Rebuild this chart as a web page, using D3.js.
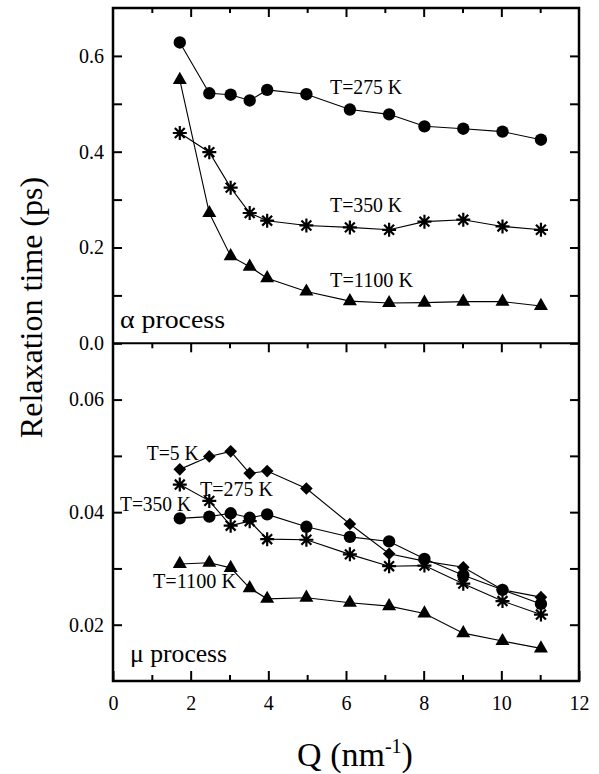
<!DOCTYPE html>
<html>
<head>
<meta charset="utf-8">
<script src="https://cdn.jsdelivr.net/npm/d3@7"></script>
<style>
  body { margin: 0; background: #fff; }
</style>
</head>
<body>
<div id="chart"></div>
<script>
const W = 599, H = 774;
const FONT = "'Liberation Serif', 'Times New Roman', Times, 'DejaVu Serif', serif";

// Q values (nm^-1), shared by every series
const qVals = [1.72, 2.48, 3.03, 3.52, 3.97, 4.98, 6.1, 7.11, 8.02, 9.02, 10.03, 11.02];

// alpha process (ps)
const alpha275  = [0.628, 0.522, 0.519, 0.507, 0.529, 0.520, 0.488, 0.478, 0.453, 0.448, 0.442, 0.425];
const alpha350  = [0.439, 0.399, 0.325, 0.272, 0.256, 0.246, 0.242, 0.237, 0.254, 0.258, 0.244, 0.237];
const alpha1100 = [0.550, 0.272, 0.182, 0.160, 0.136, 0.108, 0.088, 0.084, 0.085, 0.087, 0.087, 0.078];

// mu process (ps)
const mu5    = [0.0476, 0.0499, 0.0508, 0.0469, 0.0473, 0.0442, 0.0379, 0.0326, 0.0313, 0.0302, 0.0262, 0.0249];
const mu275  = [0.0389, 0.0392, 0.0398, 0.0390, 0.0396, 0.0374, 0.0356, 0.0348, 0.0317, 0.0288, 0.0262, 0.0237];
const mu350  = [0.0449, 0.0420, 0.0376, 0.0384, 0.0352, 0.0351, 0.0325, 0.0304, 0.0305, 0.0273, 0.0242, 0.0218];
const mu1100 = [0.0308, 0.0310, 0.0301, 0.0265, 0.0246, 0.0248, 0.0239, 0.0233, 0.0220, 0.0185, 0.0171, 0.0158];

// tick values
const xMajor = [0, 2, 4, 6, 8, 10, 12];
const xMinor = [1, 3, 5, 7, 9, 11];
const yAlphaTicks = [0, 0.1, 0.2, 0.3, 0.4, 0.5, 0.6];
const yAlphaLabels = [0, 0.2, 0.4, 0.6];
const yMuTicks = [0.02, 0.03, 0.04, 0.05, 0.06];
const yMuLabels = [0.02, 0.04, 0.06];

const svg = d3.select("#chart").append("svg")
  .attr("width", W).attr("height", H)
  .attr("font-family", FONT);

const L = 113, R = 579, T = 8, M = 343.3, B = 681;

const x = d3.scaleLinear().domain([0, 12]).range([L, R]);
const yA = d3.scaleLinear().domain([0, 0.7]).range([M, T]);
const yM = d3.scaleLinear().domain([0.01, 0.07]).range([B, M]);

// ---- axes ----
function styleAxis(g) {
  g.attr("font-family", FONT);
  g.select(".domain").remove();
  g.selectAll(".tick line").attr("stroke", "#000").attr("stroke-width", 2);
  g.selectAll(".tick text").style("font-size", "20px").style("font-family", FONT).attr("fill", "#000");
}

// x ticks: bottom of lower panel (labels), top of top panel, divider (pointing down)
svg.append("g").attr("transform", `translate(0,${B})`)
  .call(d3.axisBottom(x).tickValues(xMajor).tickSizeInner(-10).tickSizeOuter(0).tickPadding(15)
    .tickFormat(d3.format("d")))
  .call(styleAxis);
svg.append("g").attr("transform", `translate(0,${B})`)
  .call(d3.axisBottom(x).tickValues(xMinor).tickSizeInner(-6).tickSizeOuter(0).tickFormat(""))
  .call(styleAxis);
[T, M].forEach(yy => {
  svg.append("g").attr("transform", `translate(0,${yy})`)
    .call(d3.axisTop(x).tickValues(xMajor.slice(1, -1)).tickSizeInner(-9).tickSizeOuter(0).tickFormat(""))
    .call(styleAxis);
  svg.append("g").attr("transform", `translate(0,${yy})`)
    .call(d3.axisTop(x).tickValues(xMinor).tickSizeInner(-5).tickSizeOuter(0).tickFormat(""))
    .call(styleAxis);
});

// y ticks
function yAxes(scale, ticks, labels, fmt) {
  svg.append("g").attr("transform", `translate(${L},0)`)
    .call(d3.axisLeft(scale).tickValues(ticks).tickSizeInner(-9).tickSizeOuter(0).tickPadding(9)
      .tickFormat(d => labels.some(v => Math.abs(v - d) < 1e-9) ? fmt(d) : ""))
    .call(styleAxis);
  svg.append("g").attr("transform", `translate(${R},0)`)
    .call(d3.axisRight(scale).tickValues(ticks).tickSizeInner(-9).tickSizeOuter(0).tickFormat(""))
    .call(styleAxis);
}
yAxes(yA, yAlphaTicks, yAlphaLabels, d3.format(".1f"));
yAxes(yM, yMuTicks, yMuLabels, d3.format(".2f"));

// frame and divider
svg.append("rect").attr("x", L).attr("y", T).attr("width", R - L).attr("height", B - T)
  .attr("fill", "none").attr("stroke", "#000").attr("stroke-width", 2.5);
svg.append("line").attr("x1", L).attr("x2", R).attr("y1", M).attr("y2", M)
  .attr("stroke", "#000").attr("stroke-width", 2);

// ---- markers ----
const starPath = (() => {
  const r = 7, d = r * Math.SQRT1_2;
  return `M${-r},0L${r},0M0,${-r}L0,${r}M${-d},${-d}L${d},${d}M${-d},${d}L${d},${-d}`;
})();
const shapes = {
  circle: d3.symbol(d3.symbolCircle, 120)(),
  triangle: d3.symbol(d3.symbolTriangle, 85)(),
  diamond: d3.symbol(d3.symbolSquare, 80)(),
  star: starPath
};

function drawSeries(vals, yScale, shape) {
  const pts = qVals.map((q, i) => [q, vals[i]]);
  const line = d3.line().x(d => x(d[0])).y(d => yScale(d[1]));
  svg.append("path").attr("d", line(pts))
    .attr("fill", "none").attr("stroke", "#000").attr("stroke-width", 1.1);
  svg.append("g").selectAll("path").data(pts).join("path")
    .attr("d", shapes[shape])
    .attr("transform", d => `translate(${x(d[0])},${yScale(d[1])})` + (shape === "diamond" ? " rotate(45)" : ""))
    .attr("fill", shape === "star" ? "none" : "#000")
    .attr("stroke", "#000")
    .attr("stroke-width", shape === "star" ? 2.2 : 0);
}

drawSeries(alpha275, yA, "circle");
drawSeries(alpha350, yA, "star");
drawSeries(alpha1100, yA, "triangle");

drawSeries(mu5, yM, "diamond");
drawSeries(mu275, yM, "circle");
drawSeries(mu350, yM, "star");
drawSeries(mu1100, yM, "triangle");

// ---- annotations ----
function label(txt, q, v, yScale, size, width) {
  svg.append("text")
    .attr("x", x(q)).attr("y", yScale(v))
    .style("font-family", FONT)
    .style("font-size", size + "px")
    .attr("textLength", width).attr("lengthAdjust", "spacingAndGlyphs")
    .text(txt);
}
label("T=275 K", 5.59, 0.521, yA, 21, 72);
label("T=350 K", 5.59, 0.275, yA, 21, 72);
label("T=1100 K", 5.59, 0.118, yA, 21, 83);
label("\u03b1  process", 0.18, 0.032, yA, 25, 105);

label("T=5 K", 0.87, 0.0493, yM, 21, 52);
label("T=275 K", 2.24, 0.0429, yM, 21, 73);
label("T=350 K", 0.18, 0.0402, yM, 21, 71);
label("T=1100 K", 1.03, 0.0265, yM, 21, 83);
label("\u03bc  process", 0.44, 0.0134, yM, 25, 97);

// axis titles
svg.append("text")
  .attr("transform", `translate(42,${(T + B) / 2 - 37}) rotate(-90)`)
  .attr("text-anchor", "middle")
  .style("font-family", FONT)
  .style("font-size", "32px")
  .text("Relaxation time (ps)");

const xt = svg.append("text")
  .attr("x", (L + R) / 2 + 9).attr("y", 766)
  .attr("text-anchor", "middle")
  .style("font-family", FONT)
  .style("font-size", "34px");
xt.append("tspan").text("Q (nm");
xt.append("tspan").attr("dy", -13).style("font-size", "20px").text("-1");
xt.append("tspan").attr("dy", 13).text(")");
</script>
</body>
</html>
